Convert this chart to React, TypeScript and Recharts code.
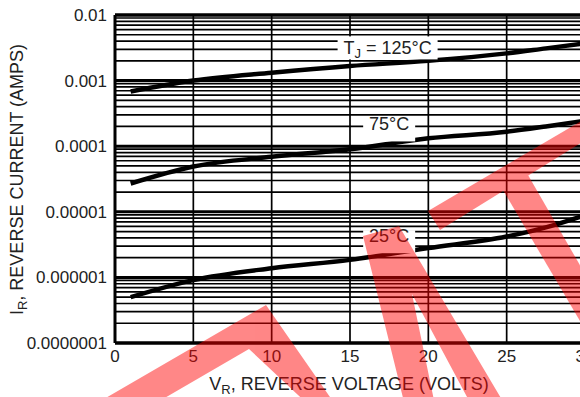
import React from 'react';
import {
  LineChart,
  Line,
  XAxis,
  YAxis,
  CartesianGrid,
  ReferenceLine,
  ReferenceDot,
} from 'recharts';

// ---- data ----
const voltage = [1, 5, 10, 15, 20, 25, 27.5, 30];
const current125 = [6.8e-4, 1.0e-3, 1.32e-3, 1.67e-3, 2.0e-3, 2.6e-3, 3.1e-3, 3.7e-3];
const current75 = [2.7e-5, 4.9e-5, 6.9e-5, 9.0e-5, 1.32e-4, 1.66e-4, 2.0e-4, 2.45e-4];
const current25 = [5.0e-7, 9.1e-7, 1.38e-6, 1.85e-6, 2.8e-6, 4.2e-6, 5.8e-6, 8.9e-6];

const xTicks = [0, 5, 10, 15, 20, 25, 30];
const xTickLabels = ['0', '5', '10', '15', '20', '25', '30'];
const yMajorTicks = [1e-7, 1e-6, 1e-5, 1e-4, 1e-3, 1e-2];
const yTickLabels = ['0.0000001', '0.000001', '0.00001', '0.0001', '0.001', '0.01'];
const minorMultipliers = [1, 2, 3, 4, 5, 6, 7, 8, 9];

const curvePrefixes = ['T', '', ''];
const curveSubs = ['J', '', ''];
const curveTexts = [' = 125°C', '75°C', '25°C'];
const labelVoltage = [17.4, 17.5, 17.5];
const labelCurrent = [3.15e-3, 1.77e-4, 3.5e-6];
const labelBoxWidth = [100, 52, 52];

// watermark polygons (page pixels)
const watermark = [
  '85,410 266,305 339,410 314,410 249,349 144,410',
  '363,236 399,226 508,410 474,410 412,294 436,410 406,410',
  '428,211 440,230 600,131 600,110',
  '500,185 528,175 600,300 600,355',
];

const data = voltage.map((v, i) => ({
  v,
  t125: current125[i],
  t75: current75[i],
  t25: current25[i],
}));

const yAllTicks: number[] = [];
yMajorTicks.slice(0, -1).forEach((major) => {
  minorMultipliers.forEach((m) => yAllTicks.push(parseFloat((m * major).toPrecision(6))));
});
yAllTicks.push(yMajorTicks[yMajorTicks.length - 1]);

const FONT = '"Liberation Sans", Arial, Helvetica, sans-serif';

const yFmt = (v: number) => {
  const i = yMajorTicks.findIndex((t) => Math.abs(t - v) / t < 1e-6);
  return i >= 0 ? yTickLabels[i] : '';
};
const xFmt = (v: number) => {
  const i = xTicks.indexOf(v);
  return i >= 0 ? xTickLabels[i] : '';
};

const makeLabelShape = (i: number) => (props: any) => {
  const { cx, cy } = props;
  const w = labelBoxWidth[i];
  return (
    <g>
      <rect x={cx - w / 2} y={cy - 11.5} width={w} height={23} fill="#fff" />
      <text
        x={cx}
        y={cy}
        dy="0.36em"
        textAnchor="middle"
        fontSize={18}
        fontFamily={FONT}
        fill="#222"
      >
        {curvePrefixes[i] ? <tspan>{curvePrefixes[i]}</tspan> : null}
        {curveSubs[i] ? (
          <tspan fontSize={13} dy={4}>
            {curveSubs[i]}
          </tspan>
        ) : null}
        <tspan dy={curveSubs[i] ? -4 : 0}>{curveTexts[i]}</tspan>
      </text>
    </g>
  );
};

const XTitle = (props: any) => {
  const vb = props.viewBox || {};
  const cx = vb.x + vb.width / 2;
  return (
    <text x={cx - 1} y={390} textAnchor="middle" fontSize={18} fontFamily={FONT} fill="#222">
      <tspan>V</tspan>
      <tspan fontSize={13} dy={4}>R</tspan>
      <tspan dy={-4}>, REVERSE VOLTAGE (VOLTS)</tspan>
    </text>
  );
};

const YTitle = () => (
  <text
    transform="rotate(-90)"
    x={-179.5}
    y={23}
    textAnchor="middle"
    fontSize={18}
    fontFamily={FONT}
    fill="#222"
  >
    <tspan>I</tspan>
    <tspan fontSize={13} dy={4}>R</tspan>
    <tspan dy={-4}>, REVERSE CURRENT (AMPS)</tspan>
  </text>
);

export default function App() {
  return (
    <div
      style={{
        position: 'absolute',
        left: 0,
        top: 0,
        width: 580,
        height: 397,
        overflow: 'hidden',
        background: '#fff',
      }}
    >
      <LineChart
        width={600}
        height={397}
        data={data}
        margin={{ top: 15, right: 15, bottom: 0, left: 0 }}
        style={{ fontFamily: FONT }}
      >
        <CartesianGrid stroke="#000" strokeWidth={1.7} verticalPoints={undefined} />
        <XAxis
          dataKey="v"
          type="number"
          domain={[0, 30]}
          ticks={xTicks}
          tickFormatter={xFmt}
          height={54}
          tickLine={false}
          tickSize={5}
          tickMargin={2}
          axisLine={{ stroke: '#000', strokeWidth: 3 }}
          tick={{ fontSize: 17, fill: '#222', fontFamily: FONT }}
          interval={0}
          label={<XTitle />}
        />
        <YAxis
          type="number"
          scale="log"
          domain={[1e-7, 1e-2]}
          ticks={yAllTicks}
          tickFormatter={yFmt}
          width={115}
          tickLine={false}
          axisLine={{ stroke: '#000', strokeWidth: 3 }}
          tick={{ fontSize: 17, fill: '#222', fontFamily: FONT }}
          interval={0}
          allowDataOverflow
          label={<YTitle />}
        />
        {yMajorTicks.map((t) => (
          <ReferenceLine key={t} y={t} stroke="#000" strokeWidth={t === 1e-2 ? 3.5 : 3} />
        ))}
        <Line type="monotone" dataKey="t125" stroke="#000" strokeWidth={4.5} dot={false} isAnimationActive={false} />
        <Line type="monotone" dataKey="t75" stroke="#000" strokeWidth={4.5} dot={false} isAnimationActive={false} />
        <Line type="monotone" dataKey="t25" stroke="#000" strokeWidth={4.5} dot={false} isAnimationActive={false} />
        {labelVoltage.map((lv, i) => (
          <ReferenceDot
            key={i}
            x={lv}
            y={labelCurrent[i]}
            r={0}
            shape={makeLabelShape(i)}
          />
        ))}
      </LineChart>
      <svg
        width={580}
        height={397}
        style={{ position: 'absolute', left: 0, top: 0, pointerEvents: 'none' }}
      >
        <g opacity={0.47} fill="#ff0000">
          {watermark.map((p, i) => (
            <polygon key={i} points={p} />
          ))}
        </g>
      </svg>
    </div>
  );
}
